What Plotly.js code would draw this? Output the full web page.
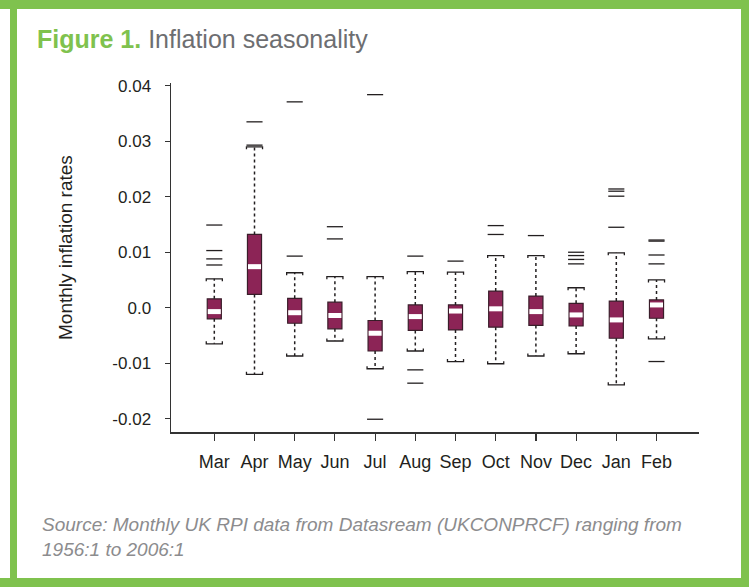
<!DOCTYPE html>
<html>
<head>
<meta charset="utf-8">
<script src="https://cdn.plot.ly/plotly-3.0.1.min.js"></script>
<style>
  html, body { margin: 0; padding: 0; background: #ffffff; }
  #chart { width: 749px; height: 587px; }
</style>
</head>
<body>
<div id="chart"></div>
<script>
// ---- data ----
const months = ['Mar','Apr','May','Jun','Jul','Aug','Sep','Oct','Nov','Dec','Jan','Feb'];
const lowerWhisker = [-0.0065, -0.0120, -0.0087, -0.0060, -0.0110, -0.0078, -0.0097, -0.0101, -0.0087, -0.0083, -0.0139, -0.0056];
const q1           = [-0.0020,  0.0024, -0.0028, -0.0038, -0.0078, -0.0041, -0.0040, -0.0035, -0.0032, -0.0033, -0.0055, -0.0019];
const median       = [-0.0007,  0.0074, -0.0009, -0.0014, -0.0046, -0.0016, -0.0006, -0.0002, -0.0007, -0.0013, -0.0022,  0.0005];
const q3           = [ 0.0016,  0.0132,  0.0017,  0.0010, -0.0023,  0.0005,  0.0005,  0.0030,  0.0021,  0.0008,  0.0012,  0.0014];
const upperWhisker = [ 0.0052,  0.0290,  0.0063,  0.0056,  0.0056,  0.0065,  0.0064,  0.0094,  0.0094,  0.0036,  0.0099,  0.0050];
// outliers: month label and value
const outlierMonth = ['Mar','Mar','Mar','Mar','Apr','Apr','May','May','Jun','Jun','Jul','Jul',
                      'Aug','Aug','Aug','Sep','Oct','Oct','Nov','Dec','Dec','Dec','Dec',
                      'Jan','Jan','Jan','Jan','Feb','Feb','Feb','Feb','Feb'];
const outlierValue = [0.0149, 0.0103, 0.0088, 0.0077, 0.0335, 0.0293, 0.0371, 0.0093, 0.0146, 0.0124, 0.0384, -0.0201,
                      0.0093, -0.0112, -0.0136, 0.0084, 0.0148, 0.0132, 0.0130, 0.0100, 0.0094, 0.0087, 0.0079,
                      0.0214, 0.0210, 0.0201, 0.0145, 0.0122, 0.0120, 0.0095, 0.0079, -0.0097];
const yTickVals = [0.04, 0.03, 0.02, 0.01, 0.0, -0.01, -0.02];
const yTickText = ['0.04', '0.03', '0.02', '0.01', '0.0', '-0.01', '-0.02'];

// ---- styling / geometry ----
const W = 749, H = 587;
const M = { l: 171, r: 50, t: 83, b: 155 };
const PW = W - M.l - M.r, PH = H - M.t - M.b;
const px = x => (x - M.l) / PW;            // pixel -> paper x
const py = y => (H - M.b - y) / PH;        // pixel -> paper y
const FONT = 'Liberation Sans, Arial, Helvetica, sans-serif';
const BOX = '#8c2456', BOXLINE = '#3a1d2a', INK = '#231f20', GREEN = '#7fc24e';

const xIdx = months.map((m, i) => i);
const capHalf = 0.2, capTick = 0.00045;

// whiskers (dotted)
const wx = [], wy = [];
months.forEach((m, i) => {
  wx.push(i, i, null, i, i, null);
  wy.push(q3[i], upperWhisker[i], null, q1[i], lowerWhisker[i], null);
});
// whisker caps (bracket shaped)
const cx = [], cy = [];
months.forEach((m, i) => {
  const u = upperWhisker[i], l = lowerWhisker[i];
  cx.push(i - capHalf, i - capHalf, i + capHalf, i + capHalf, null);
  cy.push(u - capTick, u, u, u - capTick, null);
  cx.push(i - capHalf, i - capHalf, i + capHalf, i + capHalf, null);
  cy.push(l + capTick, l, l, l + capTick, null);
});

const traces = [
  {
    type: 'bar', x: xIdx, base: q1, y: q3.map((v, i) => v - q1[i]), width: 0.35,
    marker: { color: BOX, line: { color: BOXLINE, width: 1.2 } },
    hoverinfo: 'skip', showlegend: false
  },
  {
    type: 'scatter', mode: 'lines', x: wx, y: wy,
    line: { color: INK, width: 1.5, dash: 'dot' }, hoverinfo: 'skip', showlegend: false
  },
  {
    type: 'scatter', mode: 'lines', x: cx, y: cy,
    line: { color: INK, width: 1.3 }, hoverinfo: 'skip', showlegend: false
  },
  {
    type: 'scatter', mode: 'markers', x: xIdx, y: median,
    marker: { symbol: 'line-ew', size: 9.3, line: { color: '#ffffff', width: 5 } },
    hoverinfo: 'skip', showlegend: false
  },
  {
    type: 'scatter', mode: 'markers', x: outlierMonth.map(m => months.indexOf(m)), y: outlierValue,
    marker: { symbol: 'line-ew', size: 11.5, line: { color: INK, width: 1.3 } },
    hoverinfo: 'skip', showlegend: false
  }
];

const frame = (x0, y0, x1, y1) => ({
  type: 'rect', xref: 'paper', yref: 'paper', layer: 'below',
  x0: px(x0), x1: px(x1), y0: py(y0), y1: py(y1),
  fillcolor: GREEN, line: { width: 0 }
});

const layout = {
  width: W, height: H,
  margin: M,
  paper_bgcolor: '#ffffff', plot_bgcolor: '#ffffff',
  font: { family: FONT, color: INK },
  showlegend: false,
  bargap: 0,
  xaxis: {
    range: [-1.077, 12.057],
    tickvals: xIdx, ticktext: months,
    ticks: 'outside', ticklen: 7, tickwidth: 1.2, tickcolor: '#333333',
    showline: true, linecolor: '#333333', linewidth: 1.5,
    showgrid: false, zeroline: false,
    tickfont: { family: FONT, size: 18, color: INK },
    ticklabelstandoff: 6
  },
  yaxis: {
    range: [-0.0224, 0.0405],
    tickvals: yTickVals, ticktext: yTickText,
    ticks: 'outside', ticklen: 5, tickwidth: 1.2, tickcolor: '#333333',
    showline: true, linecolor: '#333333', linewidth: 1.5,
    showgrid: false, zeroline: false,
    tickfont: { family: FONT, size: 17, color: INK },
    ticklabelstandoff: 10
  },
  shapes: [
    frame(0, 0, 749, 9),      // top
    frame(0, 578, 749, 587),  // bottom
    frame(10, 0, 17, 587),    // left
    frame(741, 0, 749, 587)   // right
  ],
  annotations: [
    {
      xref: 'paper', yref: 'paper', x: px(35), y: py(39), xanchor: 'left', yanchor: 'middle',
      showarrow: false,
      text: '<b><span style="color:' + GREEN + '">Figure 1.</span></b> Inflation seasonality',
      font: { family: FONT, size: 25, color: '#6d6e71' }
    },
    {
      xref: 'paper', yref: 'paper', x: px(65), y: py(248), xanchor: 'center', yanchor: 'middle',
      showarrow: false, textangle: -90,
      text: 'Monthly inflation rates',
      font: { family: FONT, size: 19, color: INK }
    },
    {
      xref: 'paper', yref: 'paper', x: px(40), y: py(537), xanchor: 'left', yanchor: 'middle',
      showarrow: false, align: 'left',
      text: '<i>Source: Monthly UK RPI data from Datasream (UKCONPRCF) ranging from<br>1956:1 to 2006:1</i>',
      font: { family: FONT, size: 19, color: '#8c8c8e' }
    }
  ]
};

Plotly.newPlot('chart', traces, layout, { staticPlot: true, displayModeBar: false });
</script>
</body>
</html>
